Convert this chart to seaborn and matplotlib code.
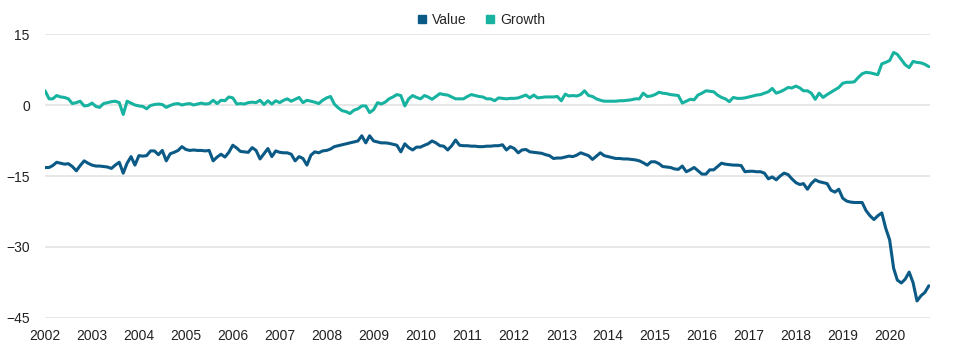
import pandas as pd
import seaborn as sns
import matplotlib.pyplot as plt
from matplotlib.lines import Line2D

# Monthly series, Jan 2002 -> Nov 2020
growth_2002 = [3.0, 1.3, 1.3, 2.0, 1.7, 1.6, 1.3, 0.3, 0.5, 0.8, -0.2, -0.1]
growth_2003 = [0.4, -0.3, -0.5, 0.3, 0.5, 0.7, 0.8, 0.5, -2.0, 0.8, 0.4, 0.0]
growth_2004 = [-0.2, -0.3, -0.8, -0.1, 0.1, 0.2, 0.1, -0.5, -0.1, 0.2, 0.3, 0.0]
growth_2005 = [0.2, 0.3, 0.0, 0.2, 0.4, 0.2, 0.3, 1.0, 0.3, 1.0, 0.9, 1.7]
growth_2006 = [1.5, 0.2, 0.3, 0.2, 0.5, 0.6, 0.5, 1.0, 0.1, 0.9, 0.2, 0.9]
growth_2007 = [0.5, 1.0, 1.3, 0.8, 1.2, 1.6, 0.5, 1.0, 0.8, 0.6, 0.3, 1.0]
growth_2008 = [1.5, 1.8, 0.2, -0.6, -1.2, -1.4, -1.8, -1.1, -0.8, -0.2, -0.2, -1.6]
growth_2009 = [-1.0, 0.5, 0.2, 0.6, 1.3, 1.7, 2.2, 2.0, -0.2, 1.3, 2.0, 1.6]
growth_2010 = [1.3, 2.0, 1.7, 1.2, 1.8, 2.4, 2.2, 2.1, 1.7, 1.3, 1.3, 1.3]
growth_2011 = [1.8, 2.2, 2.0, 1.8, 1.7, 1.3, 1.3, 0.9, 1.5, 1.4, 1.3, 1.4]
growth_2012 = [1.4, 1.5, 1.8, 2.1, 1.5, 2.1, 1.5, 1.6, 1.7, 1.7, 1.7, 1.8]
growth_2013 = [0.9, 2.3, 1.9, 2.0, 1.9, 2.2, 3.0, 2.0, 1.8, 1.3, 1.0, 0.8]
growth_2014 = [0.8, 0.8, 0.8, 0.9, 0.9, 1.0, 1.1, 1.3, 1.3, 2.5, 1.8, 1.9]
growth_2015 = [2.2, 2.7, 2.5, 2.4, 2.2, 2.1, 2.0, 0.4, 0.8, 1.2, 1.1, 2.1]
growth_2016 = [2.5, 3.0, 2.9, 2.8, 2.1, 1.6, 1.3, 0.7, 1.6, 1.4, 1.4, 1.5]
growth_2017 = [1.7, 1.9, 2.1, 2.2, 2.5, 2.8, 3.5, 2.5, 2.8, 3.2, 3.7, 3.6]
growth_2018 = [4.0, 3.6, 3.0, 3.0, 2.5, 1.2, 2.5, 1.6, 2.2, 2.7, 3.2, 3.7]
growth_2019 = [4.6, 4.8, 4.8, 4.9, 5.8, 6.6, 6.9, 6.8, 6.6, 6.4, 8.7, 9.0]
growth_2020 = [9.4, 11.1, 10.7, 9.6, 8.5, 7.9, 9.2, 9.0, 8.9, 8.6, 8.1]

value_2002 = [-13.2, -13.2, -12.8, -12.1, -12.3, -12.5, -12.4, -13.0, -13.9, -12.8, -11.8, -12.3]
value_2003 = [-12.7, -12.9, -12.9, -13.0, -13.1, -13.4, -12.7, -12.1, -14.4, -12.3, -10.9, -12.7]
value_2004 = [-10.7, -10.8, -10.7, -9.7, -9.7, -10.5, -9.6, -11.8, -10.3, -10.0, -9.6, -8.8]
value_2005 = [-9.4, -9.6, -9.5, -9.6, -9.6, -9.7, -9.6, -11.8, -11.0, -10.4, -11.0, -10.0]
value_2006 = [-8.5, -9.1, -9.8, -9.9, -10.0, -9.0, -9.6, -11.4, -10.3, -9.2, -10.9, -9.7]
value_2007 = [-10.0, -10.1, -10.1, -10.4, -11.8, -10.9, -11.3, -12.7, -10.6, -9.9, -10.1, -9.7]
value_2008 = [-9.6, -9.3, -8.8, -8.6, -8.4, -8.2, -8.0, -7.8, -7.6, -6.5, -8.0, -6.5]
value_2009 = [-7.6, -7.8, -8.0, -8.0, -8.1, -8.3, -8.5, -9.9, -8.2, -9.0, -9.5, -8.9]
value_2010 = [-8.9, -8.5, -8.2, -7.6, -8.0, -8.6, -8.7, -9.5, -8.6, -7.4, -8.5, -8.6]
value_2011 = [-8.6, -8.7, -8.7, -8.8, -8.8, -8.7, -8.7, -8.6, -8.6, -8.4, -9.5, -8.8]
value_2012 = [-9.2, -10.1, -9.5, -9.4, -9.9, -10.0, -10.1, -10.2, -10.5, -10.7, -11.3, -11.2]
value_2013 = [-11.2, -11.0, -10.8, -10.9, -10.6, -10.1, -10.4, -10.7, -11.5, -10.8, -10.1, -10.7]
value_2014 = [-10.9, -11.1, -11.3, -11.3, -11.4, -11.4, -11.5, -11.6, -11.8, -12.2, -12.7, -12.0]
value_2015 = [-12.0, -12.4, -13.0, -13.1, -13.2, -13.5, -13.6, -12.9, -14.1, -13.7, -13.2, -13.9]
value_2016 = [-14.6, -14.6, -13.7, -13.7, -13.0, -12.3, -12.5, -12.6, -12.7, -12.7, -12.8, -14.1]
value_2017 = [-14.0, -14.0, -14.1, -14.1, -14.4, -15.6, -15.2, -15.8, -15.0, -14.4, -14.7, -15.6]
value_2018 = [-16.4, -16.8, -16.6, -17.8, -16.6, -15.8, -16.2, -16.4, -16.6, -18.0, -18.4, -17.8]
value_2019 = [-19.7, -20.3, -20.5, -20.6, -20.6, -20.6, -22.3, -23.4, -24.2, -23.4, -22.8, -26.0]
value_2020 = [-28.5, -34.5, -37.0, -37.6, -36.8, -35.3, -37.5, -41.4, -40.3, -39.6, -38.2]

growth = (growth_2002 + growth_2003 + growth_2004 + growth_2005 + growth_2006 + growth_2007
          + growth_2008 + growth_2009 + growth_2010 + growth_2011 + growth_2012 + growth_2013
          + growth_2014 + growth_2015 + growth_2016 + growth_2017 + growth_2018 + growth_2019
          + growth_2020)
value = (value_2002 + value_2003 + value_2004 + value_2005 + value_2006 + value_2007
         + value_2008 + value_2009 + value_2010 + value_2011 + value_2012 + value_2013
         + value_2014 + value_2015 + value_2016 + value_2017 + value_2018 + value_2019
         + value_2020)

dates = pd.date_range('2002-01-01', periods=len(value), freq='MS')
series_names = ['Value', 'Growth']
couleurs = {'Value': '#0b5a86', 'Growth': '#17b3a0'}

df = pd.DataFrame({'date': list(dates) * 2,
                   'val': value + growth,
                   'serie': ['Value'] * len(value) + ['Growth'] * len(growth)})

sns.set_style('white')
plt.rcParams['font.family'] = ['Liberation Sans', 'DejaVu Sans']

fig = plt.figure(figsize=(9.6, 3.52), dpi=100)
ax = fig.add_axes([0.047, 0.0966, 0.922, 0.8068])

sns.lineplot(data=df, x='date', y='val', hue='serie', hue_order=series_names,
             palette=couleurs, linewidth=2.2, legend=False, ax=ax)

# Axes et grille
ax.set_ylim(-45, 15)
ax.set_yticks([15, 0, -15, -30, -45])
ax.set_xlim(pd.Timestamp('2002-01-01'), pd.Timestamp('2020-11-12'))
years = pd.date_range('2002-01-01', '2020-01-01', freq='YS')
ax.set_xticks(years)
ax.set_xticklabels([str(d.year) for d in years])
ax.set_xlabel('')
ax.set_ylabel('')
ax.grid(axis='y', color='#e3e3e3', linewidth=1.2)
ax.grid(axis='x', visible=False)
for s in ax.spines.values():
    s.set_visible(False)
ax.tick_params(axis='both', length=0, labelsize=10, colors='#222222')
ax.tick_params(axis='y', pad=11)
ax.tick_params(axis='x', pad=8)

# Légende en haut
handles = [Line2D([], [], marker='s', linestyle='', color=couleurs[n], markersize=6)
           for n in series_names]
fig.legend(handles, series_names, loc='upper center', bbox_to_anchor=(0.5, 1.0),
           ncol=2, frameon=False, fontsize=10, handletextpad=0.2, columnspacing=1.2,
           handlelength=1.0)

plt.savefig('out.png', dpi=100)
